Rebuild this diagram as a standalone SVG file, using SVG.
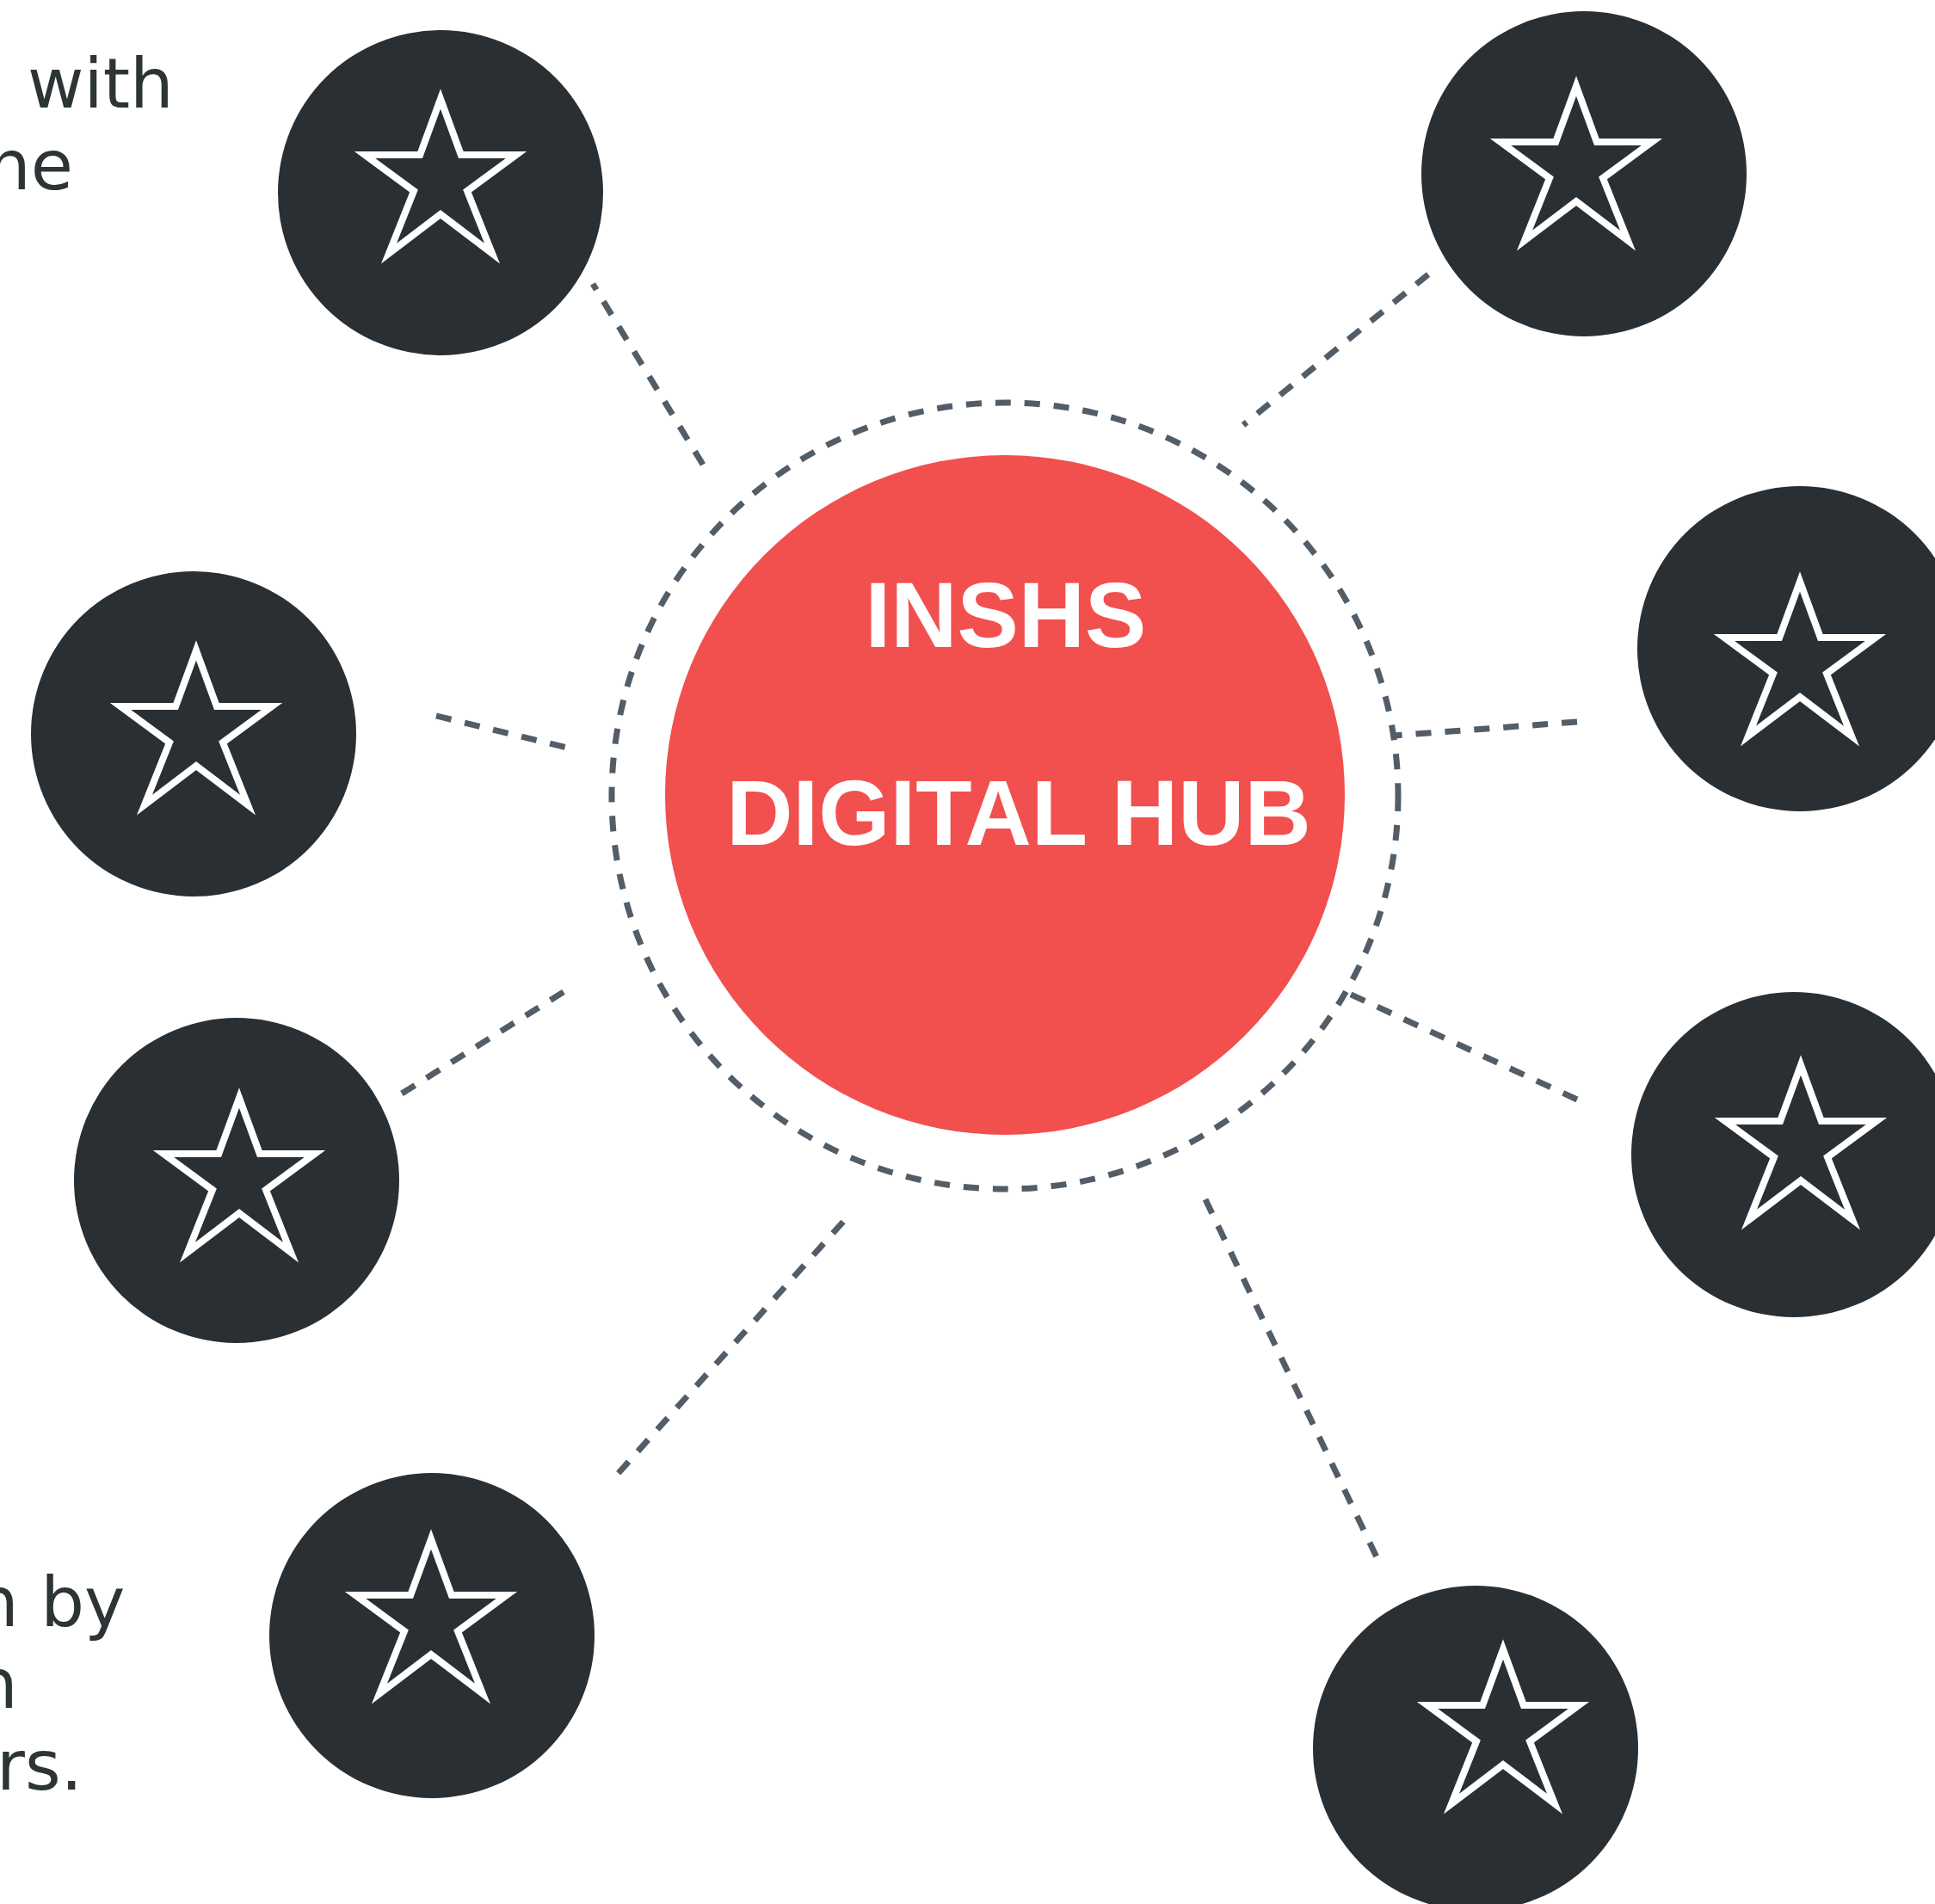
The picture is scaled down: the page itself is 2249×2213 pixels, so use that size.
<svg xmlns="http://www.w3.org/2000/svg" xmlns:xlink="http://www.w3.org/1999/xlink" width="2249" height="2213" viewBox="0 0 2249 2213">
<style>
.sat{fill:#292f33}
.star{fill:none;stroke:#ffffff;stroke-width:8;stroke-linejoin:miter}
.conn line,.ring{fill:none;stroke:#525d67;stroke-width:7;stroke-dasharray:18 16}
.hub{fill:#f24f4f}
.hubtext{font-family:"Liberation Sans",Arial,sans-serif;font-weight:bold;font-size:107px;fill:#ffffff;text-anchor:middle}
.label{font-family:"DejaVu Sans",sans-serif;font-size:80px;fill:#2d3436}
</style>
<defs>
<path id="star" d="M0,12 L23.8,77 L88,77 L31,119 L60,191.6 L0,146 L-60,191.6 L-31,119 L-88,77 L-23.8,77 Z"/>
</defs>
<rect width="2249" height="2213" fill="#ffffff"/>
<g id="texts">
<text class="label" x="32" y="125">with</text>
<text class="label" x="-15" y="220">ne</text>
<text class="label" x="-29" y="1890">n by</text>
<text class="label" x="-30" y="1985">n</text>
<text class="label" x="-4" y="2080">rs.</text>
</g>
<g id="connectors" class="conn">
<line x1="817" y1="540" x2="689" y2="330"/>
<line x1="1660" y1="319" x2="1445" y2="494"/>
<line x1="507" y1="832" x2="659" y2="869"/>
<line x1="1833" y1="839" x2="1620" y2="855"/>
<line x1="467" y1="1271" x2="658" y2="1151"/>
<line x1="1833" y1="1278" x2="1566" y2="1154"/>
<line x1="980" y1="1420" x2="718" y2="1713"/>
<line x1="1401" y1="1394" x2="1603" y2="1816"/>
</g>
<g id="hub">
<circle class="ring" cx="1168" cy="925" r="457"/>
<circle class="hub" cx="1168" cy="924" r="395"/>
<text class="hubtext" x="1169" y="752">INSHS</text>
<text class="hubtext" x="1184" y="982">DIGITAL HUB</text>
</g>
<g id="node1"><circle class="sat" cx="512" cy="224" r="189"/><use xlink:href="#star" href="#star" class="star" x="512" y="103"/></g>
<g id="node2"><circle class="sat" cx="1841" cy="202" r="189"/><use xlink:href="#star" href="#star" class="star" x="1832" y="88"/></g>
<g id="node3"><circle class="sat" cx="225" cy="853" r="189"/><use xlink:href="#star" href="#star" class="star" x="228" y="744"/></g>
<g id="node4"><circle class="sat" cx="2092" cy="754" r="189"/><use xlink:href="#star" href="#star" class="star" x="2092" y="664"/></g>
<g id="node5"><circle class="sat" cx="275" cy="1372" r="189"/><use xlink:href="#star" href="#star" class="star" x="278" y="1264"/></g>
<g id="node6"><circle class="sat" cx="2085" cy="1342" r="189"/><use xlink:href="#star" href="#star" class="star" x="2093" y="1226"/></g>
<g id="node7"><circle class="sat" cx="502" cy="1901" r="189"/><use xlink:href="#star" href="#star" class="star" x="501" y="1777"/></g>
<g id="node8"><circle class="sat" cx="1715" cy="2032" r="189"/><use xlink:href="#star" href="#star" class="star" x="1747" y="1905"/></g>
</svg>
